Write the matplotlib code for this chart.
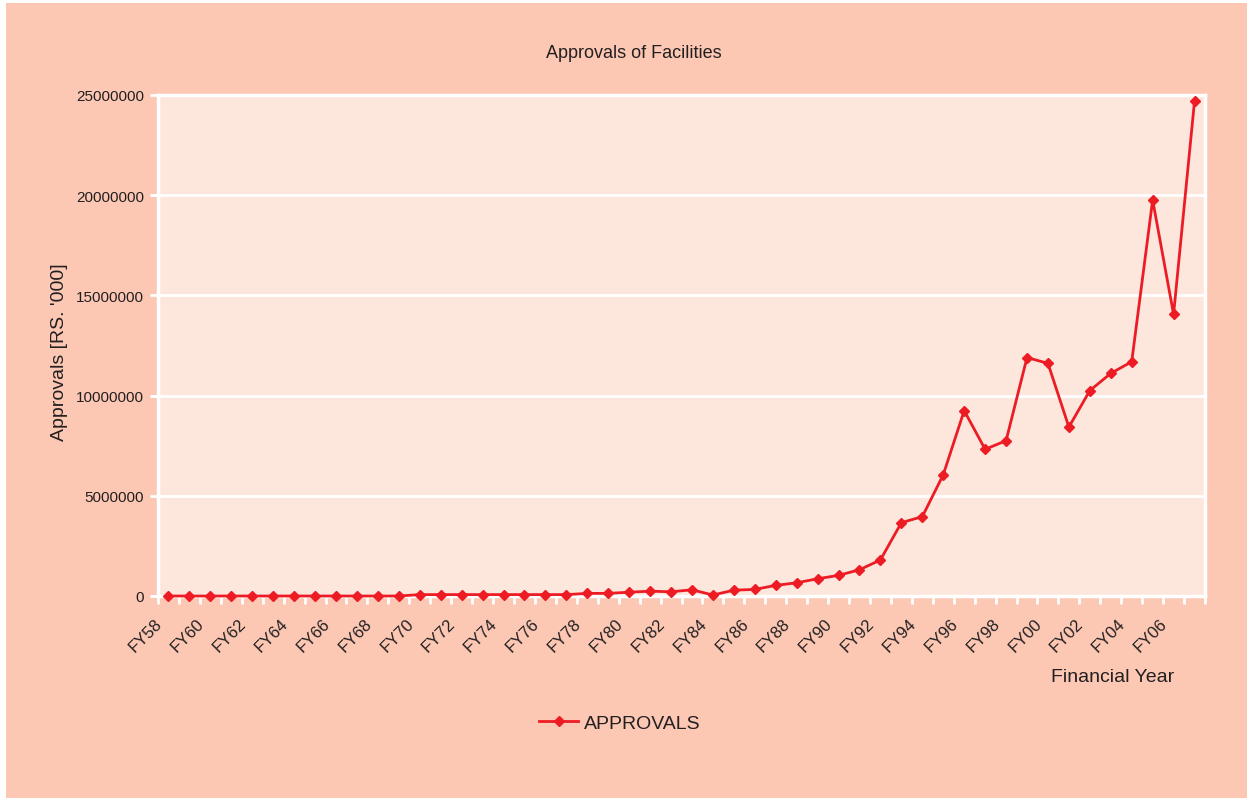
import matplotlib.pyplot as plt
import matplotlib.transforms as mtransforms
from matplotlib.patches import Rectangle
from matplotlib.ticker import FixedLocator, NullFormatter

plt.rcParams['font.family'] = ['Liberation Sans Narrow', 'Liberation Sans', 'DejaVu Sans']

# financial years FY58 .. FY07
years = ['FY%02d' % (y % 100) for y in range(1958, 2008)]
approvals = [
    0, 0, 0, 0, 0, 0, 0, 0, 0, 0, 0, 0,             # FY58-FY69
    70000, 70000, 70000, 70000, 70000, 70000, 70000, 70000,  # FY70-FY77
    130000, 130000, 190000, 240000, 210000, 310000, 50000,   # FY78-FY84
    290000, 330000, 530000, 660000, 860000, 1030000, 1310000, 1800000,  # FY85-FY92
    3660000, 3960000, 6050000, 9250000, 7320000, 7750000,    # FY93-FY98
    11900000, 11610000, 8430000, 10250000, 11110000, 11690000,  # FY99-FY04
    19760000, 14060000, 24700000,                            # FY05-FY07
]

bg = '#fcc8b4'
plot_bg = '#fde6dc'
red = '#ed1c24'
txt = '#231f20'

fig = plt.figure(figsize=(12.53, 8.03), dpi=100)
fig.patch.set_facecolor('white')
fig.patches.append(Rectangle((6 / 1253, 4 / 803), 1241 / 1253, 795 / 803,
                             transform=fig.transFigure, facecolor=bg,
                             edgecolor='none', zorder=-10))

ax = fig.add_axes([158 / 1253, 1 - 597 / 803, 1047 / 1253, 501 / 803])
ax.set_facecolor(plot_bg)

x = list(range(len(years)))
ax.plot(x, approvals, color=red, lw=2, marker='D', ms=5,
        markeredgecolor=red, label='APPROVALS', clip_on=False, zorder=3)

ax.set_xlim(-0.5, len(years) - 0.5)
ax.set_ylim(0, 25000000)
ax.set_yticks(range(0, 25000001, 5000000))
ax.set_yticklabels([str(v) for v in range(0, 25000001, 5000000)])
ax.grid(axis='y', color='white', lw=2)
ax.set_axisbelow(True)

# labels on every second year, tick marks between categories
ax.set_xticks(x[::2])
ax.set_xticklabels(years[::2], rotation=45, ha='right', va='top',
                   rotation_mode='anchor')
ax.tick_params(axis='x', length=0, pad=14, labelsize=12, colors=txt)
shift = mtransforms.ScaledTranslation(-14 / 100, 0, fig.dpi_scale_trans)
for lab in ax.get_xticklabels():
    lab.set_transform(lab.get_transform() + shift)
ax.xaxis.set_minor_locator(FixedLocator([i - 0.5 for i in range(len(years) + 1)]))
ax.xaxis.set_minor_formatter(NullFormatter())
ax.tick_params(axis='x', which='minor', length=6, width=2, color='white')
ax.tick_params(axis='y', length=6, width=2, color='white', labelcolor=txt,
               labelsize=11, pad=4)

for s in ax.spines.values():
    s.set_color('white')
    s.set_linewidth(2.5)

fig.text(634 / 1253, 1 - 54 / 803, 'Approvals of Facilities', ha='center',
         va='center', fontsize=13, color=txt)
fig.text(60 / 1253, 1 - 352 / 803, "Approvals [RS. '000]", ha='center',
         va='center', rotation=90, fontsize=14, color=txt)
fig.text(1174 / 1253, 1 - 678 / 803, 'Financial Year', ha='right',
         va='center', fontsize=14, color=txt)

fig.legend(loc='center', bbox_to_anchor=(620 / 1253, 1 - 724 / 803),
           frameon=False, fontsize=14, handlelength=2, handletextpad=0.3,
           labelcolor=txt)

fig.savefig('out.png', dpi=100, facecolor=fig.get_facecolor())
